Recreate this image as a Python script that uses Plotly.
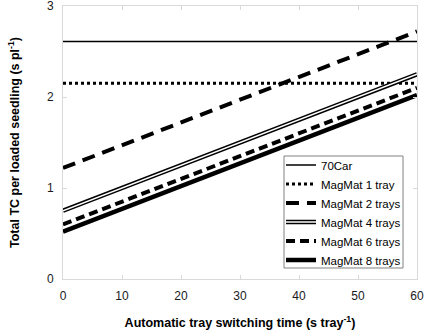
import plotly.graph_objects as go

x_vals = [0, 60]
car70 = [2.61, 2.61]
mag1 = [2.15, 2.15]
mag2 = [1.22, 2.72]
mag4 = [0.75, 2.25]
mag6 = [0.60, 2.10]
mag8 = [0.52, 2.02]

x_ticks = [0, 10, 20, 30, 40, 50, 60]
y_ticks = [0, 1, 2, 3]

FONT = "Liberation Sans, Arial, sans-serif"

LEG_X = (281 - 63) / 354
LEG_Y = (279 - 150.5) / 273
ROW = 19 / 273

fig = go.Figure()
fig.add_trace(go.Scatter(x=x_vals, y=car70, mode="lines", name="70Car",
                         line=dict(color="black", width=1.5)))
fig.add_trace(go.Scatter(x=x_vals, y=mag1, mode="lines", name="MagMat 1 tray",
                         line=dict(color="black", width=3, dash="3px,3px")))
fig.add_trace(go.Scatter(x=x_vals, y=mag2, mode="lines", name="MagMat 2 trays",
                         line=dict(color="black", width=4, dash="13px,8px")))
fig.add_trace(go.Scatter(x=x_vals, y=mag4, mode="lines", name="MagMat 4 trays",
                         legendgroup="m4",
                         line=dict(color="black", width=4.5)))
fig.add_trace(go.Scatter(x=x_vals, y=mag6, mode="lines", name="MagMat 6 trays",
                         line=dict(color="black", width=4, dash="9px,5px")))
fig.add_trace(go.Scatter(x=x_vals, y=mag8, mode="lines", name="MagMat 8 trays",
                         line=dict(color="black", width=4.5)))
# white core of the double line (its legend sample overlays the 4-tray entry)
fig.add_trace(go.Scatter(x=x_vals, y=mag4, mode="lines", name=" ",
                         legendgroup="m4", legend="legend2", hoverinfo="skip",
                         line=dict(color="white", width=1.5)))

axis_common = dict(showgrid=False, zeroline=False, showline=True, linecolor="#d9d9d9",
                   linewidth=1, mirror="ticks", ticks="inside", ticklen=4,
                   tickcolor="#d9d9d9", ticklabelstandoff=6, automargin=False,
                   ticklabeloverflow="allow",
                   tickfont=dict(family=FONT, size=12, color="#1a1a1a"))

fig.update_xaxes(range=[0, 60], tickvals=x_ticks,
                 title=dict(text="<b>Automatic tray switching time (s tray<sup>-1</sup>)</b>",
                            font=dict(family=FONT, size=12.5, color="black"), standoff=16),
                 **axis_common)
fig.update_yaxes(range=[0, 3], tickvals=y_ticks,
                 title=dict(text="<b>Total TC per loaded seedling (s pl<sup>-1</sup>)</b>",
                            font=dict(family=FONT, size=12.5, color="black"), standoff=24),
                 **axis_common)

# legend frame (decoration, paper coords)
fig.add_shape(type="rect", xref="paper", yref="paper",
              x0=0.6243, x1=0.9605, y0=0.0403, y1=0.4505,
              line=dict(color="#808080", width=1), fillcolor="white", layer="below")

fig.update_layout(
    width=424, height=330,
    margin=dict(l=63, r=7, t=6, b=51),
    plot_bgcolor="white", paper_bgcolor="white",
    font=dict(family=FONT, size=12, color="black"),
    legend=dict(x=LEG_X, y=LEG_Y, xanchor="left", yanchor="top",
                borderwidth=0, bgcolor="rgba(255,255,255,0)",
                font=dict(family=FONT, size=11.5, color="black"),
                itemwidth=30, tracegroupgap=0),
    legend2=dict(x=LEG_X, y=LEG_Y - 3 * ROW, xanchor="left", yanchor="top",
                 borderwidth=0, bgcolor="rgba(255,255,255,0)",
                 font=dict(family=FONT, size=11.5, color="black"),
                 itemwidth=30, tracegroupgap=0),
    showlegend=True,
)

fig.write_html("out.html")
